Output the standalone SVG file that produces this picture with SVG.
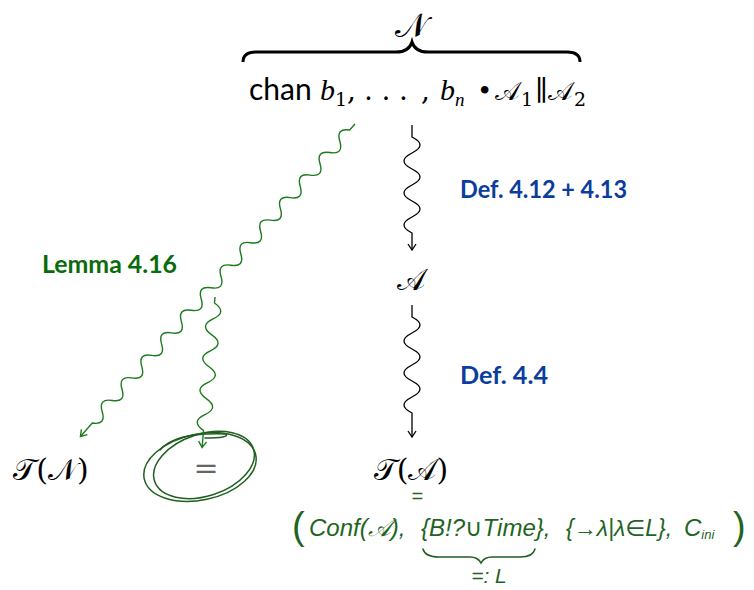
<svg xmlns="http://www.w3.org/2000/svg" width="754" height="590" viewBox="0 0 754 590">
<style>
.math{font-family:"DejaVu Serif","Liberation Serif",serif;fill:#000}
.mi{font-family:"Liberation Serif","DejaVu Serif",serif;font-style:italic}
.cal{font-family:"DejaVu Serif","Noto Sans","Liberation Serif",serif}
.sans{font-family:Lato,"Liberation Sans",sans-serif}
.blue{font-family:Lato,"Open Sans",sans-serif;font-weight:bold;font-size:24px;fill:#0b3d9e}
.green{font-family:Lato,"Open Sans",sans-serif;font-weight:bold;font-size:24px;fill:#0a6b0a}
.snake{fill:none;stroke:#000;stroke-width:1.3}
.gsnake{fill:none;stroke:#1e7a1e;stroke-width:1.4}
.hand{fill:#1f641f;font-family:"Liberation Sans","DejaVu Sans",sans-serif;font-style:italic}
.par{fill:#1f641f;font-family:"Liberation Sans","DejaVu Sans",sans-serif}
.ink{fill:none;stroke:#1f5f1f;stroke-width:1.5;stroke-linecap:round}
</style>
<defs>
<marker id="ah" markerUnits="userSpaceOnUse" markerWidth="12" markerHeight="12" refX="0" refY="0" viewBox="-8 -6 10 12" orient="auto">
<path d="M-6,-4 L0,0 L-6,4" fill="none" stroke="#000" stroke-width="1.3"/>
</marker>
<marker id="gah" markerUnits="userSpaceOnUse" markerWidth="12" markerHeight="12" refX="0" refY="0" viewBox="-8 -6 10 12" orient="auto">
<path d="M-6,-4 L0,0 L-6,4" fill="none" stroke="#1e7a1e" stroke-width="1.4"/>
</marker>
</defs>
<rect width="754" height="590" fill="#fff"/>

<g id="node-network">
<text class="cal" x="411" y="37" font-size="34" text-anchor="middle">𝒩</text>
<path d="M243,62 q0,-10 13,-10 H396 q13,0 16,-10 q3,10 16,10 H567 q13,0 13,10" fill="none" stroke="#000" stroke-width="3"/>
<text class="sans" x="249" y="100" font-size="30">chan</text>
<text class="mi" x="320" y="100" font-size="30">b</text>
<text class="math" x="335" y="106" font-size="19">1</text>
<text class="math" x="347" y="100" font-size="28">,</text>
<text class="math" x="364" y="100" font-size="28" textLength="44" lengthAdjust="spacing">...</text>
<text class="math" x="421" y="100" font-size="28">,</text>
<text class="mi" x="440" y="100" font-size="30">b</text>
<text class="mi" x="455" y="106" font-size="19">n</text>
<text class="math" x="477" y="100" font-size="26">•</text>
<text class="cal" x="495" y="100" font-size="26">𝒜</text>
<text class="math" x="521" y="106" font-size="19">1</text>
<text class="math" x="535" y="100" font-size="28">∥</text>
<text class="cal" x="548" y="100" font-size="26">𝒜</text>
<text class="math" x="574" y="106" font-size="19">2</text>
</g>

<g id="node-A">
<text class="cal" x="411" y="290" font-size="30" text-anchor="middle">𝒜</text>
</g>

<g id="node-TA">
<text class="cal" x="411" y="480" font-size="30" text-anchor="middle">𝒯(𝒜)</text>
</g>

<g id="node-TN">
<text class="cal" x="51" y="480" font-size="30" text-anchor="middle">𝒯(𝒩)</text>
</g>

<g id="node-eq">
<text x="206" y="478" font-size="30" text-anchor="middle" fill="#666" font-family="DejaVu Serif,serif">=</text>
<ellipse class="ink" cx="200" cy="467" rx="57" ry="33" transform="rotate(-12 200 467)"/>
<ellipse class="ink" cx="204" cy="465" rx="52" ry="31" transform="rotate(-18 204 465)"/>
<path class="ink" d="M160,450 Q175,432 226,434 Q230,438 205,438"/>
</g>

<g id="connectors">
<path class="snake" marker-end="url(#ah)" d="M412,125 V137 q16,8 0,16 t0,16 t0,16 t0,16 t0,16 t0,16 V250"/>
<path class="snake" marker-end="url(#ah)" d="M412,305 V317 q16,8 0,16 t0,16 t0,16 t0,16 t0,16 t0,16 V437"/>
<g transform="translate(355,124) rotate(131.3)">
<path class="gsnake" marker-end="url(#gah)" d="M0,0 H8 q7.5,12 15,0 t15,0 t15,0 t15,0 t15,0 t15,0 t15,0 t15,0 t15,0 t15,0 t15,0 t15,0 t15,0 t15,0 t15,0 t15,0 t15,0 t15,0 t15,0 t15,0 t15,0 t15,0 t15,0 t15,0 t15,0 t15,0 H416"/>
</g>
<g transform="translate(215,297) rotate(94.9)">
<path class="gsnake" marker-end="url(#gah)" d="M0,0 H6 q8,-14 16,0 t16,0 t16,0 t16,0 t16,0 t16,0 t16,0 t16,0 H151"/>
</g>
</g>

<g id="labels">
<text class="blue" x="460" y="198" textLength="167" lengthAdjust="spacingAndGlyphs">Def. 4.12 + 4.13</text>
<text class="blue" x="460" y="384" textLength="88" lengthAdjust="spacingAndGlyphs">Def. 4.4</text>
<text class="green" x="42" y="273" textLength="135" lengthAdjust="spacingAndGlyphs">Lemma 4.16</text>
</g>

<g id="handwriting">
<text class="hand" x="417" y="503" font-size="20" text-anchor="middle">=</text>
<text class="par" x="292" y="539" font-size="38">(</text>
<text class="hand" x="309" y="536" font-size="24">Conf(𝒜),</text>
<text class="hand" x="421" y="536" font-size="24">{B!?∪Time},</text>
<text class="hand" x="566" y="536" font-size="23">{→λ|λ∈L},</text>
<text class="hand" x="684" y="536" font-size="24">C<tspan font-size="13" dy="3">ini</tspan></text>
<text class="par" x="733" y="539" font-size="38">)</text>
<path class="ink" d="M423,549 q2,8 16,8 H470 q8,0 11,6 q3,-6 11,-6 H520 q13,0 15,-8"/>
<text class="hand" x="489" y="583" font-size="21" text-anchor="middle">=: L</text>
</g>
</svg>
